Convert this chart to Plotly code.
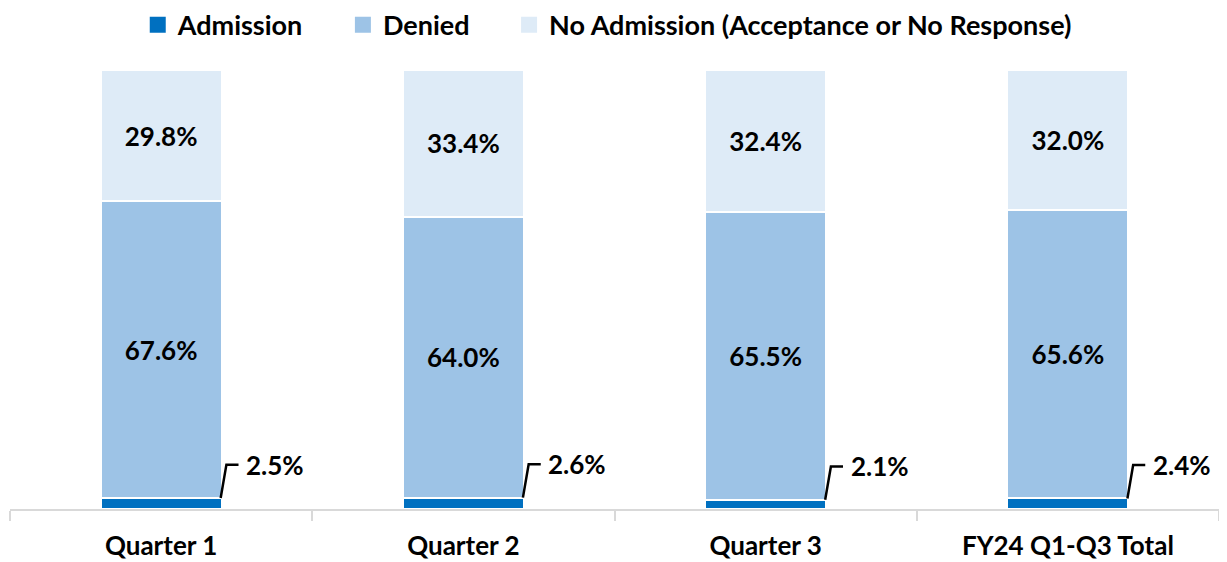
import plotly.graph_objects as go

categories = ["Quarter 1", "Quarter 2", "Quarter 3", "FY24 Q1-Q3 Total"]
admission = [2.5, 2.6, 2.1, 2.4]
denied = [67.6, 64.0, 65.5, 65.6]
no_admission = [29.8, 33.4, 32.4, 32.0]
series_names = ["Admission", "Denied", "No Admission (Acceptance or No Response)"]

FONT = "Lato"
C_ADM = "#0070C0"
C_DEN = "#9DC3E6"
C_NO = "#DEEBF7"
colors = [C_ADM, C_DEN, C_NO]
BAR_W = 0.4
FS = 26
PAD = "\u00a0" * 5

fig = go.Figure()
fig.add_trace(go.Bar(name=series_names[0], x=categories, y=admission, showlegend=False,
                     marker=dict(color=C_ADM, line=dict(color="white", width=2)), width=BAR_W))
fig.add_trace(go.Bar(name=series_names[1], x=categories, y=denied, showlegend=False,
                     marker=dict(color=C_DEN, line=dict(color="white", width=2)), width=BAR_W,
                     text=[f"{v:.1f}%" for v in denied], textposition="inside", insidetextanchor="middle",
                     textfont=dict(family=FONT, size=FS, color="black"), texttemplate="<b>%{text}</b>"))
fig.add_trace(go.Bar(name=series_names[2], x=categories, y=no_admission, showlegend=False,
                     marker=dict(color=C_NO, line=dict(color="white", width=2)), width=BAR_W,
                     text=[f"{v:.1f}%" for v in no_admission], textposition="inside", insidetextanchor="middle",
                     textfont=dict(family=FONT, size=FS, color="black"), texttemplate="<b>%{text}</b>"))

# legend entries (square swatches)
for k, (nm, col) in enumerate(zip(series_names, colors)):
    label = f"<b>{nm}</b>" + (PAD if k < len(series_names) - 1 else "")
    fig.add_trace(go.Scatter(x=[None], y=[None], mode="markers", name=label,
                             marker=dict(symbol="square", size=16, color=col), showlegend=True))

# Admission labels with bent leader lines
for i, v in enumerate(admission):
    xe = i + BAR_W / 2
    ylab = v + 7.6
    fig.add_shape(type="path", xref="x", yref="y",
                  path=f"M {xe - 0.003},{v} L {xe + 0.016},{ylab} L {xe + 0.056},{ylab}",
                  line=dict(color="black", width=2.5))
    fig.add_annotation(x=xe + 0.075, y=ylab, xref="x", yref="y", text=f"<b>{v:.1f}%</b>",
                       showarrow=False, xanchor="left", yanchor="middle",
                       font=dict(family=FONT, size=FS, color="black"))

fig.update_layout(
    barmode="stack",
    width=1219, height=554,
    margin=dict(l=2, r=8, t=62, b=53, autoexpand=False),
    plot_bgcolor="white", paper_bgcolor="white",
    bargap=0.6,
    font=dict(family=FONT, color="black"),
    legend=dict(orientation="h", x=0.494, xanchor="center", y=1.158, yanchor="top",
                font=dict(family=FONT, size=27, color="black"), traceorder="normal",
                itemwidth=30),
    xaxis=dict(type="category", showline=True, linecolor="#D9D9D9", linewidth=2,
               ticks="outside", tickson="boundaries", ticklen=10, tickcolor="#D9D9D9", tickwidth=2,
               tickfont=dict(family=FONT, size=FS, color="black"), showgrid=False,
               ticklabelstandoff=13,
               tickvals=categories, ticktext=[f"<b>{c}</b>" for c in categories]),
    yaxis=dict(range=[0, 100], visible=False, showgrid=False),
)

fig.write_html("out.html")
